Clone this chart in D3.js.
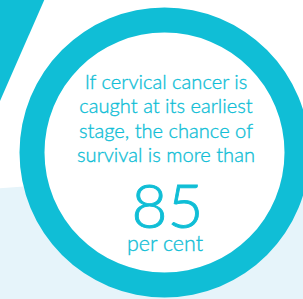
<!DOCTYPE html>
<html><head><meta charset="utf-8">
<script src="https://cdn.jsdelivr.net/npm/d3@7/dist/d3.min.js"></script>
<style>html,body{margin:0;padding:0;background:#fff;overflow:hidden}</style>
</head><body>
<svg id="c" width="303" height="299"></svg>
<script>
// Data
const textLines = ["If cervical cancer is", "caught at its earliest", "stage, the chance of", "survival is more than"];
const statValue = [85];
const statUnit = ["per cent"];

const W = 303, H = 299;
const cyan = "#10BED6", pale = "#E6F4FA";
const svg = d3.select("#c");

const x = d3.scaleLinear().domain([0, 1]).range([0, W]);
const y = d3.scaleLinear().domain([0, 1]).range([0, H]);

// pale background band
svg.append("path")
  .attr("d", d3.line()([[x(0), y(0.63)], [x(1), y(0.555)], [x(1), y(1)], [x(0), y(1)]]))
  .attr("fill", pale);

// top-left stripe
svg.append("path")
  .attr("d", d3.line()([[x(0), y(0)], [x(0.146), y(0)], [x(0), y(0.338)]]))
  .attr("fill", cyan);

const cx = 164.5, cy = 152.5, rOut = 145, rIn = 120;
const g = svg.append("g").attr("transform", `translate(${cx},${cy})`);
g.append("circle").attr("r", rIn).attr("fill", "#fff");
g.append("path")
  .attr("d", d3.arc().innerRadius(rIn).outerRadius(rOut).startAngle(0).endAngle(2 * Math.PI)())
  .attr("fill", cyan);

const font = "Lato, 'Open Sans', sans-serif";
const baselines = [88.5, 113, 137.5, 162];
const lines = svg.append("g").selectAll("text").data(textLines).join("text")
  .attr("x", 166).attr("y", (d, i) => baselines[i])
  .attr("text-anchor", "middle")
  .attr("font-family", font).attr("font-weight", 300)
  .attr("font-size", 20).attr("fill", cyan)
  .attr("stroke", cyan).attr("stroke-width", 0.35)
  .text(d => d);
const w4 = lines.nodes()[3].getComputedTextLength();
lines.attr("font-size", 20 * 178 / w4);

svg.append("text").data(statValue)
  .attr("x", 167.5).attr("y", 228)
  .attr("text-anchor", "middle").attr("font-family", font).attr("font-weight", 300)
  .attr("font-size", 62).attr("fill", cyan)
  .attr("stroke", cyan).attr("stroke-width", 0.9)
  .text(d => d);

const unit = svg.append("text").data(statUnit)
  .attr("x", 165).attr("y", 251)
  .attr("text-anchor", "middle").attr("font-family", font).attr("font-weight", 300)
  .attr("font-size", 20).attr("fill", cyan)
  .attr("stroke", cyan).attr("stroke-width", 0.35)
  .text(d => d);
const wu = unit.node().getComputedTextLength();
unit.attr("font-size", 20 * 76 / wu);
</script>
</body></html>
